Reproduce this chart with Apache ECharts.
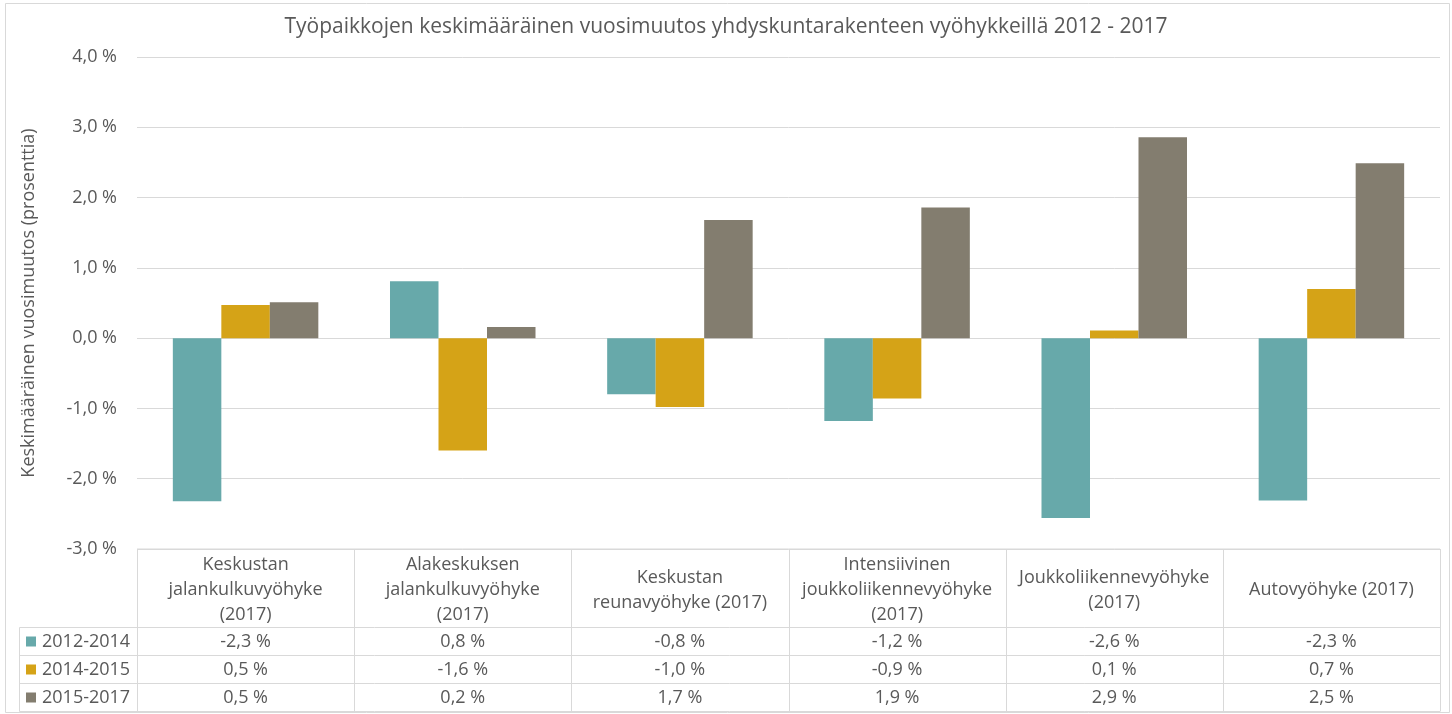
<!DOCTYPE html>
<html>
<head>
<meta charset="utf-8">
<script src="https://cdn.jsdelivr.net/npm/echarts@6/dist/echarts.min.js"></script>
<style>
  html, body { margin: 0; padding: 0; background: #fff; }
  #chart { width: 1452px; height: 714px; }
</style>
</head>
<body>
<div id="chart"></div>
<script>
const titleText = 'Työpaikkojen keskimääräinen vuosimuutos yhdyskuntarakenteen vyöhykkeillä 2012 - 2017'
const yAxisName = 'Keskimääräinen vuosimuutos (prosenttia)'
const zones = [
  'Keskustan\njalankulkuvyöhyke\n(2017)',
  'Alakeskuksen\njalankulkuvyöhyke\n(2017)',
  'Keskustan\nreunavyöhyke (2017)',
  'Intensiivinen\njoukkoliikennevyöhyke\n(2017)',
  'Joukkoliikennevyöhyke\n(2017)',
  'Autovyöhyke (2017)'
]
const seriesNames = ['2012-2014', '2014-2015', '2015-2017']
const values2012 = [-2.32, 0.81, -0.80, -1.18, -2.56, -2.31]
const values2014 = [0.47, -1.60, -0.98, -0.86, 0.11, 0.70]
const values2015 = [0.51, 0.16, 1.68, 1.86, 2.86, 2.49]
const colors = ['#67a9aa', '#d5a317', '#837d6f']

const textColor = '#595959'
const lineColor = '#d9d9d9'
const font = '"Open Sans", Lato, sans-serif'
const fontSize = 18

function fmt(v) {
  return v.toFixed(1).replace('.', ',') + ' %'
}

const chart = echarts.init(document.getElementById('chart'))

const allValues = [values2012, values2014, values2015]

chart.setOption({
  animation: false,
  backgroundColor: '#fff',
  textStyle: { fontFamily: font, color: textColor },
  title: {
    text: titleText,
    left: 'center',
    top: 12,
    textStyle: { fontSize: 21, fontWeight: 'normal', color: textColor, fontFamily: font }
  },
  grid: { left: 137, right: 12, top: 57, bottom: 165 },
  xAxis: {
    type: 'category',
    data: zones,
    axisLine: { show: false, onZero: false },
    axisTick: { show: false },
    axisLabel: {
      interval: 0,
      color: textColor,
      fontSize: fontSize,
      lineHeight: 25,
      fontFamily: font,
      align: 'center',
      verticalAlign: 'middle',
      margin: 41
    }
  },
  yAxis: {
    type: 'value',
    min: -3,
    max: 4,
    interval: 1,
    name: yAxisName,
    nameLocation: 'middle',
    nameGap: 99,
    nameTextStyle: { fontSize: fontSize, color: textColor, fontFamily: font },
    axisLine: { show: false },
    axisTick: { show: false },
    axisLabel: { formatter: fmt, fontSize: fontSize, color: textColor, margin: 20, fontFamily: font },
    splitLine: { lineStyle: { color: lineColor, width: 1 } }
  },
  series: seriesNames.map((name, i) => ({
    name: name,
    type: 'bar',
    data: allValues[i],
    barGap: '0%',
    barCategoryGap: '33%',
    itemStyle: { color: colors[i] }
  }))
})

// data table under the plot
function drawTable() {
  const left = 137
  const right = 1440
  const top = chart.convertToPixel({ yAxisIndex: 0 }, -3)
  const headerBottom = 627.5
  const rowH = 28
  const tableLeft = 19.5
  const bottom = headerBottom + rowH * seriesNames.length
  const step = (right - left) / zones.length
  const els = []
  const line = (x1, y1, x2, y2) => els.push({
    type: 'line',
    shape: { x1: x1, y1: y1, x2: x2, y2: y2 },
    style: { stroke: lineColor, lineWidth: 1 },
    silent: true
  })
  line(left, top, right, top)
  for (let r = 0; r <= seriesNames.length; r++) {
    const y = headerBottom + r * rowH
    line(tableLeft, y, right, y)
  }
  line(tableLeft, headerBottom, tableLeft, bottom)
  for (let c = 0; c <= zones.length; c++) {
    const x = Math.round(left + c * step) + 0.5
    line(x, top, x, bottom)
  }
  seriesNames.forEach((name, r) => {
    const cy = headerBottom + r * rowH + rowH / 2
    els.push({
      type: 'rect',
      shape: { x: 26, y: cy - 5, width: 10, height: 10 },
      style: { fill: colors[r] }
    })
    els.push({
      type: 'text',
      x: 42,
      y: cy,
      style: { text: name, fill: textColor, font: fontSize + 'px ' + font, textVerticalAlign: 'middle', textAlign: 'left' }
    })
    allValues[r].forEach((v, c) => {
      const cx = chart.convertToPixel({ xAxisIndex: 0 }, c)
      els.push({
        type: 'text',
        x: cx,
        y: cy,
        style: { text: fmt(v), fill: textColor, font: fontSize + 'px ' + font, textVerticalAlign: 'middle', textAlign: 'center' }
      })
    })
  })
  els.push({
    type: 'rect',
    shape: { x: 5.5, y: 3.5, width: 1444, height: 709 },
    style: { fill: null, stroke: lineColor, lineWidth: 1 },
    silent: true
  })
  chart.setOption({ graphic: els })
}

drawTable()
</script>
</body>
</html>
